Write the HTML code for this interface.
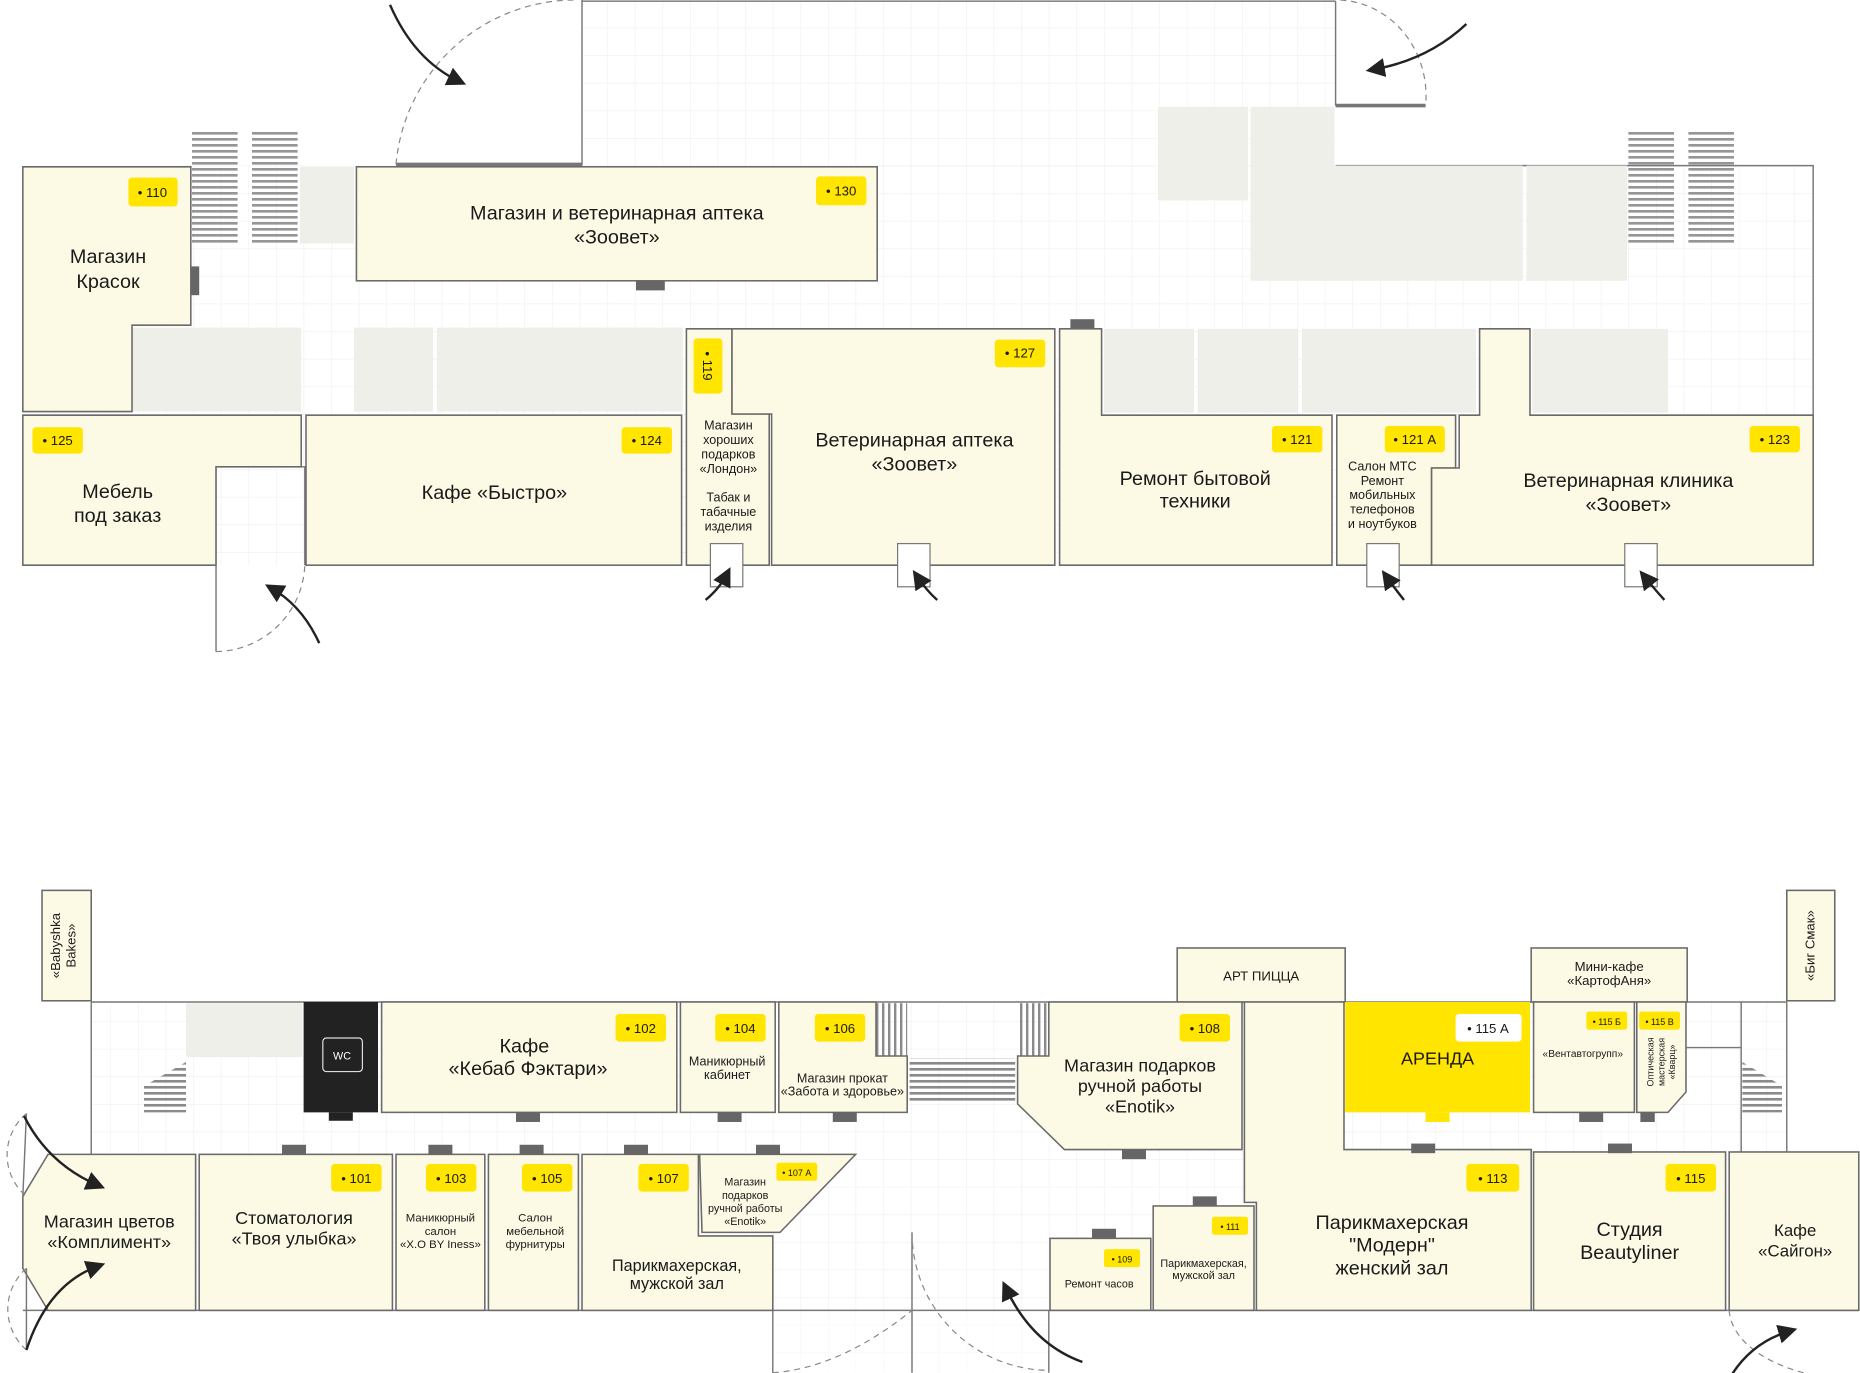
<!DOCTYPE html>
<html><head><meta charset="utf-8"><style>
html,body{margin:0;padding:0;background:#fff;}
svg{display:block;}
text{font-family:"Liberation Sans","DejaVu Sans",sans-serif;fill:#1a1a1a;}
.r{fill:#fcf9e4;stroke:#6a6a6a;stroke-width:1.3;}
.g{fill:#efefea;}
.b{fill:#ffe500;}
.d{fill:#666;}
.t{font-size:16.5px;text-anchor:middle;}
.s{font-size:10.5px;text-anchor:middle;}
.bt{font-size:11px;text-anchor:middle;}
.ln{stroke:#777;stroke-width:1.2;fill:none;}
.ds{stroke:#888;stroke-width:1;fill:none;stroke-dasharray:5 4;}
.ar{stroke:#222;stroke-width:2;fill:none;marker-end:url(#ah);}
</style></head><body>
<svg width="1860" height="1373" viewBox="0 0 1550 1144.2" xmlns="http://www.w3.org/2000/svg">
<defs>
<pattern id="grid" width="23" height="23" patternUnits="userSpaceOnUse"><path d="M23 0H0V23" fill="none" stroke="#efefef" stroke-width="1"/></pattern>
<pattern id="st" width="10" height="5" patternUnits="userSpaceOnUse"><rect width="10" height="2.2" fill="#8a8a8a"/></pattern>
<pattern id="sv" width="5" height="10" patternUnits="userSpaceOnUse"><rect width="2" height="10" fill="#8a8a8a"/></pattern>
<marker id="ah" markerWidth="8" markerHeight="8" refX="5" refY="4" orient="auto" markerUnits="strokeWidth"><path d="M0,0 L8,4 L0,8 z" fill="#222"/></marker>
</defs>

<!-- ============ TOP FLOOR ============ -->
<rect x="485" y="0" width="628" height="140" fill="url(#grid)"/>
<rect x="19" y="138" width="1492" height="333" fill="url(#grid)"/>
<path class="ln" d="M485 0V138 M485 1H1113 M1113 1V88"/>
<path d="M1113 88H1188" stroke="#777" stroke-width="3"/>
<path d="M330 137H485" stroke="#777" stroke-width="3"/>
<path class="ln" d="M1113 138H1511V471"/>
<path class="ds" d="M330 137 A150 150 0 0 1 480 0"/>
<path class="ds" d="M1117 0 A75 80 0 0 1 1188 88"/>
<path class="ar" d="M325 4 Q345 50 383 68"/>
<path class="ar" d="M1222 20 Q1190 50 1144 58"/>

<!-- stairs -->
<rect x="160" y="110" width="38" height="95" fill="url(#st)" opacity="0.9"/>
<rect x="210" y="110" width="38" height="95" fill="url(#st)" opacity="0.9"/>
<rect x="1357" y="110" width="38" height="95" fill="url(#st)" opacity="0.9"/>
<rect x="1407" y="110" width="38" height="95" fill="url(#st)" opacity="0.9"/>

<!-- grey blocks top -->
<rect class="g" x="250" y="139" width="45" height="64"/>
<rect class="g" x="965" y="89" width="75" height="78"/>
<rect class="g" x="1042" y="89" width="70" height="145"/>
<rect class="g" x="1097" y="138" width="172" height="96"/>
<rect class="g" x="1272" y="138" width="84" height="96"/>
<rect class="g" x="110" y="273" width="141" height="70"/>
<rect class="g" x="295" y="273" width="66" height="70"/>
<rect class="g" x="364" y="273" width="205" height="70"/>
<rect class="g" x="920" y="274" width="75" height="70"/>
<rect class="g" x="998" y="274" width="84" height="70"/>
<rect class="g" x="1085" y="274" width="145" height="70"/>
<rect class="g" x="1277" y="274" width="113" height="70"/>

<!-- Krasok -->
<path class="r" d="M19 139H159V271H110V343H19Z"/>
<rect class="d" x="159" y="222" width="7" height="24"/>
<text class="t" x="90" y="219">Магазин</text><text class="t" x="90" y="240">Красок</text>
<!-- 130 -->
<rect class="r" x="297" y="139" width="434" height="95"/>
<rect class="d" x="530" y="234" width="24" height="8"/>
<text class="t" x="514" y="183">Магазин и ветеринарная аптека</text>
<text class="t" x="514" y="203">«Зоовет»</text>
<!-- 125 -->
<path class="r" d="M19 346H251V389H180V471H19Z"/>
<text class="t" x="98" y="415">Мебель</text><text class="t" x="98" y="435">под заказ</text>
<path class="ln" d="M180 389V543 M251 389H254V471"/>
<path class="ds" d="M180 543 A75 75 0 0 0 254 471"/>
<path class="ar" d="M266 536 Q252 505 226 490"/>
<!-- 124 -->
<rect class="r" x="255" y="346" width="313" height="125"/>
<text class="t" x="412" y="416">Кафе «Быстро»</text>
<!-- 119 -->
<path class="r" d="M572 274H610V345H641V471H572Z"/>
<text class="s" x="607" y="358">Магазин</text><text class="s" x="607" y="370">хороших</text><text class="s" x="607" y="382">подарков</text><text class="s" x="607" y="394">«Лондон»</text>
<text class="s" x="607" y="418">Табак и</text><text class="s" x="607" y="430">табачные</text><text class="s" x="607" y="442">изделия</text>
<!-- 127 -->
<path class="r" d="M610 274H879V471H643V345H610Z"/>
<text class="t" x="762" y="372">Ветеринарная аптека</text><text class="t" x="762" y="392">«Зоовет»</text>
<!-- 121 -->
<rect class="d" x="892" y="266" width="20" height="8"/>
<path class="r" d="M883 274H918V346H1110V471H883Z"/>
<text class="t" x="996" y="404">Ремонт бытовой</text><text class="t" x="996" y="423">техники</text>
<!-- 121A -->
<path class="r" d="M1114 346H1213V390H1193V471H1114Z"/>
<text class="s" x="1152" y="392">Салон МТС</text><text class="s" x="1152" y="404">Ремонт</text><text class="s" x="1152" y="416">мобильных</text><text class="s" x="1152" y="428">телефонов</text><text class="s" x="1152" y="440">и ноутбуков</text>
<!-- 123 -->
<path class="r" d="M1233 274H1275V346H1511V471H1193V390H1216V346H1233Z"/>
<text class="t" x="1357" y="406">Ветеринарная клиника</text><text class="t" x="1357" y="426">«Зоовет»</text>

<!-- door nubs top -->
<g fill="#fff" stroke="#777" stroke-width="1">
<rect x="592" y="453" width="27" height="36"/><rect x="748" y="453" width="27" height="36"/>
<rect x="1139" y="453" width="27" height="36"/><rect x="1354" y="453" width="27" height="36"/>
</g>
<path class="ar" d="M588 500 Q600 490 606 478"/>
<path class="ar" d="M781 500 Q772 492 764 480"/>
<path class="ar" d="M1170 500 Q1162 490 1155 480"/>
<path class="ar" d="M1387 500 Q1378 490 1370 480"/>

<!-- badges top -->
<g>
<rect class="b" x="107" y="148" width="41" height="24" rx="3"/><text class="bt" x="127" y="164">• 110</text>
<rect class="b" x="680" y="147" width="42" height="24" rx="3"/><text class="bt" x="701" y="163">• 130</text>
<rect class="b" x="27" y="356" width="42" height="22" rx="3"/><text class="bt" x="48" y="371">• 125</text>
<rect class="b" x="518" y="356" width="42" height="22" rx="3"/><text class="bt" x="539" y="371">• 124</text>
<rect class="b" x="578" y="282" width="24" height="46" rx="3"/><text class="bt" transform="translate(586 305) rotate(90)" x="0" y="0">• 119</text>
<rect class="b" x="829" y="283" width="42" height="23" rx="3"/><text class="bt" x="850" y="298">• 127</text>
<rect class="b" x="1060" y="355" width="42" height="22" rx="3"/><text class="bt" x="1081" y="370">• 121</text>
<rect class="b" x="1154" y="355" width="50" height="22" rx="3"/><text class="bt" x="1179" y="370">• 121 А</text>
<rect class="b" x="1458" y="355" width="42" height="22" rx="3"/><text class="bt" x="1479" y="370">• 123</text>
</g>

<!-- ============ BOTTOM FLOOR ============ -->
<rect x="76" y="835" width="1413" height="257" fill="url(#grid)"/>
<rect x="644" y="1092" width="230" height="52" fill="url(#grid)" opacity="0.5"/>
<path class="ln" d="M76 835H1489 M76 835V962 M1489 835V960"/>
<path class="ln" d="M19 1092H1549 M644 1092V1144 M874 1092V1144 M760 1027V1144"/>

<rect class="r" x="35" y="742" width="41" height="92"/>
<text class="bt" transform="translate(50 788) rotate(-90)" text-anchor="middle">«Babyshka</text>
<text class="bt" transform="translate(63 788) rotate(-90)" text-anchor="middle">Bakes»</text>
<rect class="r" x="1489" y="742" width="40" height="92"/>
<text class="bt" transform="translate(1512 788) rotate(-90)" text-anchor="middle">«Биг Смак»</text>
<rect class="r" x="981" y="790" width="140" height="45"/>
<text class="bt" x="1051" y="817">АРТ ПИЦЦА</text>
<rect class="r" x="1276" y="790" width="130" height="45"/>
<text class="bt" x="1341" y="809">Мини-кафе</text><text class="bt" x="1341" y="821">«КартофАня»</text>

<rect class="g" x="155" y="836" width="97" height="45"/>
<path fill="url(#st)" d="M120 905 L155 885 V927 H120Z"/>
<path fill="url(#st)" d="M1452 885 L1485 905 V927 H1452Z"/>
<rect x="730" y="836" width="26" height="44" fill="url(#sv)"/>
<rect x="849" y="836" width="25" height="44" fill="url(#sv)"/>
<rect x="758" y="882" width="88" height="36" fill="url(#st)"/>

<!-- WC -->
<rect x="253" y="835" width="62" height="92" fill="#222"/>
<rect x="269" y="865" width="33" height="28" rx="3" fill="none" stroke="#ddd" stroke-width="1"/>
<text x="285" y="883" style="font-size:9px;fill:#fff;text-anchor:middle">WC</text>
<rect x="274" y="927" width="20" height="7" fill="#222"/>

<rect class="r" x="318" y="835" width="246" height="92"/>
<text class="t" x="437" y="877">Кафе</text><text class="t" x="440" y="896">«Кебаб Фэктари»</text>
<rect class="r" x="567" y="835" width="79" height="92"/>
<text class="s" x="606" y="888">Маникюрный</text><text class="s" x="606" y="899">кабинет</text>
<path class="r" d="M649 835H730V880H756V927H649Z"/>
<text class="s" x="702" y="902">Магазин прокат</text><text class="s" x="702" y="913">«Забота и здоровье»</text>
<path class="r" d="M874 835H1035V958H887L848 920V880H874Z"/>
<text class="t" x="950" y="893" style="font-size:15px">Магазин подарков</text><text class="t" x="950" y="910" style="font-size:15px">ручной работы</text><text class="t" x="950" y="927" style="font-size:15px">«Enotik»</text>
<path class="r" d="M1037 835H1120V958H1276V1092H1047V1002H1037Z"/>
<text class="t" x="1160" y="1024">Парикмахерская</text><text class="t" x="1160" y="1043">"Модерн"</text><text class="t" x="1160" y="1062">женский зал</text>
<rect x="1121" y="835" width="154" height="92" fill="#ffe500"/>
<rect x="1188" y="927" width="20" height="8" fill="#ffe500"/>
<text class="t" x="1198" y="887" style="font-size:15px">АРЕНДА</text>
<rect x="1213" y="845" width="55" height="23" rx="3" fill="#fff"/><text class="bt" x="1240" y="861">• 115 А</text>
<rect class="r" x="1278" y="835" width="84" height="92"/>
<text x="1319" y="881" style="font-size:8.5px;text-anchor:middle">«Вентавтогрупп»</text>
<path class="r" d="M1364 835H1405V910L1390 927H1364Z"/>
<text style="font-size:7.5px;text-anchor:middle" transform="translate(1378 885) rotate(-90)">Оптическая</text>
<text style="font-size:7.5px;text-anchor:middle" transform="translate(1387 885) rotate(-90)">мастерская</text>
<text style="font-size:7.5px;text-anchor:middle" transform="translate(1396 885) rotate(-90)">«Кварц»</text>
<path class="ln" d="M1405 873H1451V960 M1451 835V873"/>

<!-- bottom row -->
<path class="r" d="M40 962H163V1092H40L19 1057V997Z"/>
<text class="t" x="91" y="1023" style="font-size:15px">Магазин цветов</text><text class="t" x="91" y="1040" style="font-size:15px">«Комплимент»</text>
<rect class="r" x="166" y="962" width="161" height="130"/>
<text class="t" x="245" y="1020" style="font-size:15px">Стоматология</text><text class="t" x="245" y="1037" style="font-size:15px">«Твоя улыбка»</text>
<rect class="r" x="330" y="962" width="74" height="130"/>
<text class="s" x="367" y="1018" style="font-size:9.5px">Маникюрный</text><text class="s" x="367" y="1029" style="font-size:9.5px">салон</text><text class="s" x="367" y="1040" style="font-size:9.5px">«X.O BY Iness»</text>
<rect class="r" x="407" y="962" width="75" height="130"/>
<text class="s" x="446" y="1018" style="font-size:9.5px">Салон</text><text class="s" x="446" y="1029" style="font-size:9.5px">мебельной</text><text class="s" x="446" y="1040" style="font-size:9.5px">фурнитуры</text>
<path class="r" d="M485 962H582V1030H644V1092H485Z"/>
<text class="t" x="564" y="1059" style="font-size:13.5px">Парикмахерская,</text><text class="t" x="564" y="1074" style="font-size:13.5px">мужской зал</text>
<path class="r" d="M583 962H713L650 1027H585Z"/>
<text class="s" x="621" y="988" style="font-size:9px">Магазин</text><text class="s" x="621" y="999" style="font-size:9px">подарков</text><text class="s" x="621" y="1010" style="font-size:9px">ручной работы</text><text class="s" x="621" y="1021" style="font-size:9px">«Enotik»</text>
<rect class="r" x="875" y="1032" width="84" height="60"/>
<text class="s" x="916" y="1073" style="font-size:9px">Ремонт часов</text>
<rect class="r" x="961" y="1005" width="84" height="87"/>
<text class="s" x="1003" y="1056" style="font-size:9px">Парикмахерская,</text><text class="s" x="1003" y="1066" style="font-size:9px">мужской зал</text>
<rect class="r" x="1278" y="960" width="160" height="132"/>
<text class="t" x="1358" y="1030">Студия</text><text class="t" x="1358" y="1049">Beautyliner</text>
<rect class="r" x="1441" y="960" width="108" height="132"/>
<text class="t" x="1496" y="1030" style="font-size:14px">Кафе</text><text class="t" x="1496" y="1047" style="font-size:14px">«Сайгон»</text>

<!-- door markers bottom -->
<g class="d">
<rect x="430" y="927" width="20" height="8"/><rect x="598" y="927" width="20" height="8"/><rect x="694" y="927" width="20" height="8"/>
<rect x="1316" y="927" width="20" height="8"/><rect x="1367" y="927" width="12" height="8"/>
<rect x="235" y="954" width="20" height="8"/><rect x="357" y="954" width="20" height="8"/><rect x="433" y="954" width="20" height="8"/>
<rect x="520" y="954" width="20" height="8"/><rect x="630" y="954" width="20" height="8"/><rect x="935" y="958" width="20" height="8"/>
<rect x="910" y="1024" width="20" height="8"/><rect x="994" y="997" width="20" height="8"/>
<rect x="1176" y="953" width="20" height="8"/><rect x="1340" y="953" width="20" height="8"/>
</g>

<!-- entrances bottom -->
<path class="ds" d="M22 928 A45 45 0 0 0 22 997"/>
<path class="ds" d="M22 1057 A45 45 0 0 0 22 1125"/>
<path class="ln" d="M19 997L22 928 M22 1057L22 1125" stroke="#bbb"/>
<path class="ar" d="M20 930 Q40 970 82 988"/>
<path class="ar" d="M22 1125 Q40 1070 82 1055"/>
<path class="ds" d="M760 1027 A115 115 0 0 0 874 1142"/>
<path class="ds" d="M644 1144 Q700 1140 760 1092"/>
<path class="ar" d="M902 1135 Q860 1120 838 1073"/>
<path class="ds" d="M1441 1092 A110 60 0 0 0 1549 1150"/>
<path class="ar" d="M1438 1155 Q1455 1120 1492 1109"/>

<!-- badges bottom -->
<g>
<rect class="b" x="513" y="845" width="42" height="23" rx="3"/><text class="bt" x="534" y="861">• 102</text>
<rect class="b" x="596" y="845" width="42" height="23" rx="3"/><text class="bt" x="617" y="861">• 104</text>
<rect class="b" x="679" y="845" width="42" height="23" rx="3"/><text class="bt" x="700" y="861">• 106</text>
<rect class="b" x="983" y="845" width="42" height="23" rx="3"/><text class="bt" x="1004" y="861">• 108</text>
<rect class="b" x="1322" y="843" width="34" height="15" rx="2"/><text x="1339" y="854" style="font-size:7.5px;text-anchor:middle">• 115 Б</text>
<rect class="b" x="1366" y="843" width="34" height="15" rx="2"/><text x="1383" y="854" style="font-size:7.5px;text-anchor:middle">• 115 В</text>
<rect class="b" x="276" y="970" width="42" height="23" rx="3"/><text class="bt" x="297" y="986">• 101</text>
<rect class="b" x="355" y="970" width="42" height="23" rx="3"/><text class="bt" x="376" y="986">• 103</text>
<rect class="b" x="435" y="970" width="42" height="23" rx="3"/><text class="bt" x="456" y="986">• 105</text>
<rect class="b" x="532" y="970" width="42" height="23" rx="3"/><text class="bt" x="553" y="986">• 107</text>
<rect class="b" x="647" y="969" width="34" height="15" rx="2"/><text x="664" y="980" style="font-size:7.5px;text-anchor:middle">• 107 А</text>
<rect class="b" x="920" y="1041" width="30" height="15" rx="2"/><text x="935" y="1052" style="font-size:7.5px;text-anchor:middle">• 109</text>
<rect class="b" x="1010" y="1014" width="30" height="15" rx="2"/><text x="1025" y="1025" style="font-size:7.5px;text-anchor:middle">• 111</text>
<rect class="b" x="1222" y="970" width="44" height="23" rx="3"/><text class="bt" x="1244" y="986">• 113</text>
<rect class="b" x="1388" y="970" width="42" height="23" rx="3"/><text class="bt" x="1409" y="986">• 115</text>
</g>
</svg>
</body></html>
